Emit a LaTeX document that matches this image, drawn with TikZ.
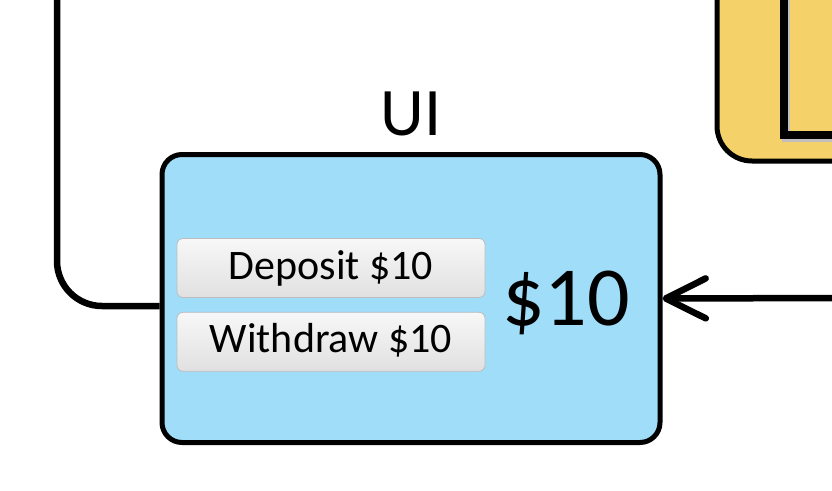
\documentclass[tikz,border=0pt]{standalone}
\usepackage{fontspec}
\setmainfont{Carlito}
\usetikzlibrary{arrows.meta, positioning, calc}
\definecolor{uiblue}{HTML}{9FDDF9}
\definecolor{logicyellow}{HTML}{F5D169}
\definecolor{btnedge}{HTML}{BDBDBD}

\begin{document}
\begin{tikzpicture}[
    x=1pt, y=-1pt,
    panel/.style={draw, line width=5pt, rounded corners=20pt},
    button/.style={draw=btnedge, line width=0.8pt, rounded corners=6pt,
        top color=gray!6, bottom color=gray!24,
        minimum width=308pt, minimum height=59pt, inner sep=0pt,
        text height=26pt, text depth=4pt,
        font=\fontsize{42}{42}\selectfont},
    wire/.style={line width=6.5pt},
]
\clip (0,0) rectangle (832,490);

% Logic box (mostly outside the view)
\draw[panel, fill=logicyellow, rounded corners=35pt] (717,-60) rectangle (900,161);
\draw[line width=8pt, black!25] (786,-10) -- (786,138) -- (900,138);
\draw[line width=8pt] (784,-10) -- (784,135) -- (900,135);

% UI box
\node[panel, fill=uiblue, minimum width=498pt, minimum height=288pt] (uibox) at (411,298.5) {};
\node[font=\fontsize{68}{68}\selectfont, anchor=base] (uilabel) at (411,135) {UI};

% buttons
\node[button] (deposit) at (331,268) {Deposit \$10};
\node[button, below=14pt of deposit] (withdraw) {Withdraw \$10};

% amount
\node[font=\fontsize{84}{84}\selectfont, anchor=base] (amount) at (566,325) {\$10};

% wires
\coordinate (inlet) at (57,-10);
\coordinate (outlet) at (840,298);
\draw[wire, rounded corners=45pt] ([yshift=-7.5pt]uibox.west) -- (inlet |- 0,306) -- (inlet);
\draw[wire, -{Straight Barb[length=40pt, width=40pt, round]}] (outlet) -- (uibox.east);

\end{tikzpicture}
\end{document}
